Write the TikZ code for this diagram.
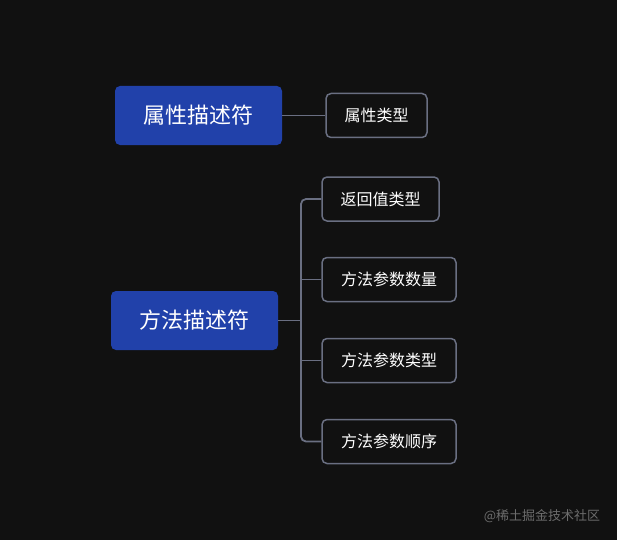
\documentclass[tikz,border=0pt]{standalone}
\usepackage{fontspec}
\setmainfont{Noto Sans CJK SC}
\usetikzlibrary{positioning}
\definecolor{bgdark}{HTML}{111111}
\definecolor{rootblue}{HTML}{2141AA}
\definecolor{edgegray}{HTML}{6A6F82}
\definecolor{markgray}{HTML}{6C6C6C}
\tikzset{
  root/.style={
    rectangle,
    rounded corners=5pt,
    minimum width=167pt,
    minimum height=59pt,
    inner sep=0pt,
    align=center,
    fill=rootblue,
    text=white,
    font=\fontsize{22pt}{25pt}\selectfont
    },
  leaf/.style={
    rectangle,
    rounded corners=5pt,
    minimum height=44pt,
    inner sep=0pt,
    align=center,
    draw=edgegray,
    line width=1.5pt,
    fill=bgdark,
    text=white,
    font=\fontsize{16pt}{19pt}\selectfont
    },
  link/.style={draw=edgegray, line width=1.8pt, rounded corners=5pt},
}
\begin{document}
\begin{tikzpicture}[x=1pt, y=-1pt]
\fill[bgdark] (0,0) rectangle (617,540);
\useasboundingbox (0,0) rectangle (617,540);
\node (attr) [root] at (198.5,115.5) {属性描述符};
\node (attrtype) [leaf, minimum width=101pt] at (376.5,115.5) {属性类型};
\node (meth) [root] at (194.5,320.5) {方法描述符};
\node (ret) [leaf, minimum width=117pt] at (380.5,199) {返回值类型};
\node (count) [leaf, minimum width=134pt] at (389,279.5) {方法参数数量};
\node (ptype) [leaf, minimum width=134pt] at (389,360.5) {方法参数类型};
\node (order) [leaf, minimum width=134pt] at (389,441.5) {方法参数顺序};
\coordinate (fork) at (301,320.5);
\draw[link] (attr.east) -- (attrtype.west);
\draw[link] (meth.east) -- (fork);
\draw[link] (ret.west) -| (fork) |- (order.west);
\draw[link] (count.west -| fork) -- (count.west);
\draw[link] (ptype.west -| fork) -- (ptype.west);
\node (mark) [text=markgray, font=\fontsize{13pt}{15pt}\selectfont] at (542,516) {@稀土掘金技术社区};
\end{tikzpicture}
\end{document}
